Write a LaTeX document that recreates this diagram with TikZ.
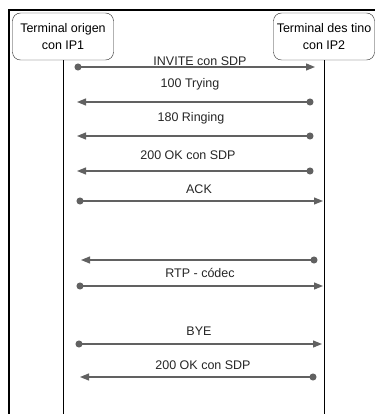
\documentclass[tikz,border=0pt]{standalone}
\usepackage{fontspec}
\setmainfont{Liberation Sans}
\usetikzlibrary{arrows.meta}
\tikzset{
  terminal/.style={draw=black!85, rounded corners=8pt, minimum width=101pt,
    minimum height=47pt, align=center, inner sep=0pt,
    font=\fontsize{12.5}{17}\selectfont},
  msg/.style={draw=black!62, line width=1.2pt,
    {Circle[length=7pt]}-{Triangle[length=9pt,width=7pt]}},
  lbl/.style={anchor=base, inner sep=0pt, text=black!85,
    font=\fontsize{12.5}{15}\selectfont},
}

\begin{document}
\begin{tikzpicture}[x=1pt,y=-1pt]
\useasboundingbox (0,0) rectangle (375,414);
% marco
\draw[line width=1.6pt] (9,414) -- (9,10) -- (375,10);
% terminales
\node[terminal] (orig) at (63,36.5) {Terminal origen\\con IP1};
\node[terminal] (dest) at (324,36.5) {Terminal des tino\\con IP2};
\coordinate (fin) at (0,414);
\draw[line width=0.9pt] (orig.south) -- (orig.south |- fin);
\draw[line width=0.9pt] (dest.south) -- (dest.south |- fin);
% mensajes: origen x / destino x / y / texto x / texto y / texto
\foreach \xa/\xb/\y/\tx/\ty/\txt [count=\i] in {
    74.5/315/67/200/66/{INVITE con SDP},
    313.5/77/102/190/88/{100 Trying},
    313.5/77/136/191/122/{180 Ringing},
    313.5/77/171/188/159/{200 OK con SDP},
    76.5/323/201/199/193/{ACK},
    76.5/323/286/200/277/{RTP - códec},
    75.5/322/344/199/335/{BYE},
    316.5/80/377/203/369/{200 OK con SDP}} {
  \coordinate (s\i) at (\xa,\y);
  \coordinate (e\i) at (\xb,\y);
  \draw[msg] (s\i) -- (e\i);
  \node[lbl] (t\i) at (\tx,\ty) {\txt};
}
% RTP de vuelta
\coordinate (rtpa) at (317.5,260);
\coordinate (rtpb) at (81,260);
\draw[msg] (rtpa) -- (rtpb);
\end{tikzpicture}
\end{document}
